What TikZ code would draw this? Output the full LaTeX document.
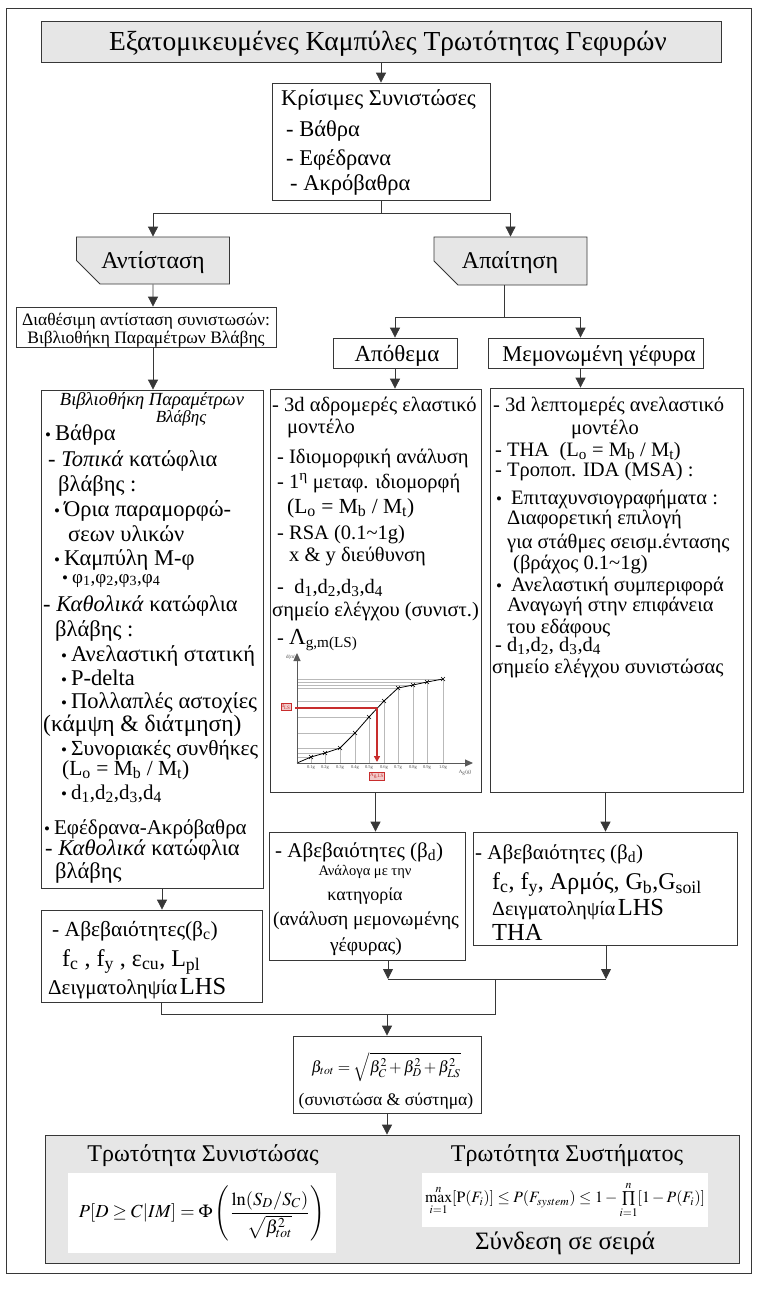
\documentclass[tikz,border=0pt]{standalone}
\usepackage{mathptmx}
\usepackage{fontspec}
\setmainfont{Liberation Serif}
\usepackage{graphicx}
\usetikzlibrary{arrows.meta}
\usetikzlibrary{fit}
\usetikzlibrary{shapes.misc}
\definecolor{boxgray}{RGB}{230,230,230}
\definecolor{linegray}{RGB}{55,55,55}
\definecolor{chartred}{RGB}{200,45,45}
\newcommand{\fsz}[1]{\fontsize{#1}{#1}\selectfont}
\newcommand{\bul}{{\fsz{17}\textbullet}\hspace{4pt}}
\tikzstyle{block}=[draw=linegray, line width=0.8pt, inner sep=0]
\tikzstyle{gray block}=[block, fill=boxgray]
\tikzstyle{cut block}=[gray block, chamfered rectangle, chamfered rectangle corners=south west, chamfered rectangle xsep=13pt, chamfered rectangle ysep=11pt]
\tikzstyle{wire}=[draw=linegray, line width=0.8pt]
\tikzstyle{link}=[wire, -{Triangle[width=10pt,length=10pt]}]
\tikzstyle{line text}=[inner sep=0, anchor=base west]
\tikzstyle{mid text}=[inner sep=0, anchor=base]

\begin{document}
\begin{tikzpicture}[x=1pt, y=-1pt]
  \useasboundingbox (0,0) rectangle (762,1293);
  \draw[wire] (6,8) rectangle (751,1273);

  % boxes
  \node[gray block, fit={(41,21) (721,62)}] (title) {};
  \node[block, fit={(272,83) (490,200)}] (crit) {};
  \node[cut block, fit={(89,248) (217,273)}] (resist) {};
  \node[cut block, fit={(447,248) (574,274)}] (demand) {};
  \node[block, fit={(16,307) (276,347)}] (avail) {};
  \node[block, fit={(41,390) (263,888)}] (lib) {};
  \node[block, fit={(333,338) (457,368)}] (margin) {};
  \node[block, fit={(488,338) (703,368)}] (single) {};
  \node[block, fit={(270,389) (481,792)}] (elastic) {};
  \node[block, fit={(490,388) (743,792)}] (inelastic) {};
  \node[block, fit={(41,910) (262,1002)}] (unc-c) {};
  \node[block, fit={(269,832) (465,960)}] (unc-d) {};
  \node[block, fit={(473,832) (737,945)}] (unc-s) {};
  \node[block, fit={(293,1036) (481,1113)}] (btot) {};
  \node[gray block, fit={(45,1135) (739,1263)}] (frag) {};
  \node[fill=white, inner sep=0, fit={(68,1173) (336,1253)}] (frag-c) {};
  \node[fill=white, inner sep=0, fit={(422,1173) (708,1227)}] (frag-s) {};

  % connectors
  \coordinate (crit-split) at (381,213);
  \coordinate (demand-split) at (504,317);
  \coordinate (join-d) at (388,979);
  \coordinate (join-s) at (606,979);
  \coordinate (join-all) at (495,1014);
  \draw[link] (title) -- (crit);
  \draw[wire] (crit) -- (crit-split);
  \draw[link] (crit-split) -| (resist);
  \draw[link] (crit-split) -| (demand);
  \draw[link] (resist) -- (resist |- avail.north);
  \draw[link] (resist |- avail.south) -- (resist |- lib.north);
  \draw[wire] (demand-split |- demand.south) -- (demand-split);
  \draw[link] (demand-split) -| (margin);
  \draw[link] (demand-split) -| ([xshift=-15pt]single.north);
  \draw[link] (margin) -- (margin |- elastic.north);
  \draw[link] ([xshift=-15pt]single.south) -- ([xshift=-15pt]single.south |- inelastic.north);
  \draw[link] ([xshift=10pt]lib.south) -- ([xshift=10pt]lib.south |- unc-c.north);
  \draw[link] (elastic) -- (elastic |- unc-d.north);
  \draw[link] ([xshift=-11pt]inelastic.south) -- ([xshift=-11pt]inelastic.south |- unc-s.north);
  \draw[link] (join-d |- unc-d.south) -- (join-d);
  \draw[link] (join-s |- unc-s.south) -- (join-s);
  \draw[wire] (join-d) -- (join-s);
  \draw[wire] (join-all |- join-d) -- (join-all) -| ([xshift=10pt]unc-c.south);
  \draw[link] (btot |- join-all) -- (btot);
  \draw[link] (btot) -- (btot |- frag.north);

  % headings
  \node[mid text, font=\fsz{27.5}] (title-text) at (388,50) {Εξατομικευμένες Καμπύλες Τρωτότητας Γεφυρών};
  \node[line text, font=\fsz{22.5}] (crit-1) at (281,105) {Κρίσιμες Συνιστώσες};
  \node[line text, font=\fsz{22.5}] (crit-2) at (286,136) {- Βάθρα};
  \node[line text, font=\fsz{22.5}] (crit-3) at (286,165) {- Εφέδρανα};
  \node[line text, font=\fsz{22.5}] (crit-4) at (290,190) {- Ακρόβαθρα};
  \node[mid text, font=\fsz{24}] (resist-text) at (153,268) {Αντίσταση};
  \node[mid text, font=\fsz{24}] (demand-text) at (510,268) {Απαίτηση};
  \node[mid text, font=\fsz{17.5}] (avail-1) at (146,325) {Διαθέσιμη αντίσταση συνιστωσών:};
  \node[mid text, font=\fsz{17.5}] (avail-2) at (146,343) {Βιβλιοθήκη Παραμέτρων Βλάβης};
  \node[mid text, font=\fsz{23}] (margin-text) at (397,361) {Απόθεμα};
  \node[mid text, font=\fsz{22.5}] (single-text) at (599,361) {Μεμονωμένη γέφυρα};

  % resistance library
  \node[mid text, font=\fsz{18.5}\itshape] (lib-head-1) at (152,405) {Βιβλιοθήκη Παραμέτρων};
  \node[mid text, font=\fsz{17}\itshape] (lib-head-2) at (181,422) {Βλάβης};
  \node[line text, font=\fsz{22.5}] (lib-1) at (45,440) {\bul Βάθρα};
  \node[line text, font=\fsz{22.5}] (lib-2) at (48,466) {- \textit{Τοπικά} κατώφλια};
  \node[line text, font=\fsz{22.5}] (lib-3) at (58,491) {βλάβης :};
  \node[line text, font=\fsz{22.5}] (lib-4) at (54,516) {\bul Όρια παραμορφώ-};
  \node[line text, font=\fsz{22.5}] (lib-5) at (68,541) {σεων υλικών};
  \node[line text, font=\fsz{22.5}] (lib-6) at (54,565) {\bul Καμπύλη Μ-φ};
  \node[line text, font=\fsz{19}] (lib-7) at (62,583) {\bul φ\textsubscript{1},φ\textsubscript{2},φ\textsubscript{3},φ\textsubscript{4}};
  \node[line text, font=\fsz{22.5}] (lib-8) at (43,611) {- \textit{Καθολικά} κατώφλια};
  \node[line text, font=\fsz{22.5}] (lib-9) at (55,636) {βλάβης :};
  \node[line text, font=\fsz{22.5}] (lib-10) at (61,661) {\bul Ανελαστική στατική};
  \node[line text, font=\fsz{22.5}] (lib-11) at (61,685) {\bul P-delta};
  \node[line text, font=\fsz{22.5}] (lib-12) at (61,708) {\bul Πολλαπλές αστοχίες};
  \node[line text, font=\fsz{23.5}] (lib-13) at (43,731) {(κάμψη \& διάτμηση)};
  \node[line text, font=\fsz{21.5}] (lib-14) at (61,755) {\bul Συνοριακές συνθήκες};
  \node[line text, font=\fsz{21.5}] (lib-15) at (62,775) {(L\textsubscript{o} = M\textsubscript{b} / M\textsubscript{t})};
  \node[line text, font=\fsz{21}] (lib-16) at (61,799) {\bul d\textsubscript{1},d\textsubscript{2},d\textsubscript{3},d\textsubscript{4}};
  \node[line text, font=\fsz{21}] (lib-17) at (44,834) {\bul Εφέδρανα-Ακρόβαθρα};
  \node[line text, font=\fsz{22.5}] (lib-18) at (45,855) {- \textit{Καθολικά} κατώφλια};
  \node[line text, font=\fsz{22.5}] (lib-19) at (55,878) {βλάβης};

  % elastic model
  \node[line text, font=\fsz{20.5}] (el-1) at (272,411) {- 3d αδρομερές ελαστικό};
  \node[line text, font=\fsz{20.5}] (el-2) at (287,433) {μοντέλο};
  \node[line text, font=\fsz{20.5}] (el-3) at (277,463) {- Ιδιομορφική ανάλυση};
  \node[line text, font=\fsz{20.5}] (el-4) at (277,488) {- 1\textsuperscript{η} μεταφ. ιδιομορφή};
  \node[line text, font=\fsz{21.5}] (el-5) at (287,513) {(L\textsubscript{o} = M\textsubscript{b} / M\textsubscript{t})};
  \node[line text, font=\fsz{20.5}] (el-6) at (277,539) {- RSA (0.1\textasciitilde1g)};
  \node[line text, font=\fsz{20.5}] (el-7) at (289,561) {x \& y διεύθυνση};
  \node[line text, font=\fsz{20.5}] (el-8) at (277,593) {-\ \ d\textsubscript{1},d\textsubscript{2},d\textsubscript{3},d\textsubscript{4}};
  \node[line text, font=\fsz{20.5}] (el-9) at (272,616) {σημείο ελέγχου (συνιστ.)};
  \node[line text, font=\fsz{20.5}] (el-10) at (277,644) {- {\fsz{23}Λ}\textsubscript{g,m(LS)}};

  % chart in elastic model
  \foreach \px/\py/\lbl [count=\i] in {311/757/0.1g, 325/753/0.2g, 340/748/0.3g, 355/733/0.4g, 369/717/0.5g,
      384/701/0.6g, 398/688/0.7g, 413/685/0.8g, 427/682/0.9g, 443/679/1.0g} {
    \draw[gray!55, line width=0.4pt] (\px,763) -- (\px,\py) (297,\py) -- (\px,\py);
    \node[font=\fsz{4.5}, text=gray!60!black, inner sep=0] (tick-\i) at (\px,767) {\lbl};
  }
  \draw[line width=0.8pt] (297,763) -- (311,757) -- (325,753) -- (340,748) -- (355,733) -- (369,717)
    -- (384,701) -- (398,688) -- (413,685) -- (427,682) -- (443,679);
  \foreach \px/\py in {311/757, 325/753, 340/748, 355/733, 369/717, 384/701, 398/688, 413/685, 427/682, 443/679}
    \draw[line width=0.6pt] ({\px-2},{\py-2}) -- ({\px+2},{\py+2}) ({\px-2},{\py+2}) -- ({\px+2},{\py-2});
  \draw[gray!70!black, line width=1pt, -{Triangle[width=7pt,length=8pt]}] (297,763) -- (297,653);
  \draw[gray!70!black, line width=1pt, -{Triangle[width=7pt,length=8pt]}] (297,763) -- (473,763);
  \node[font=\fsz{5}, text=gray!60!black, inner sep=0] (axis-x) at (465,773) {A\textsubscript{g}(g)};
  \node[font=\fsz{5}, text=gray!60!black, inner sep=0] (axis-y) at (291,657) {d(m)};
  \draw[chartred, line width=1.8pt] (295,708) -- (377,708);
  \draw[chartred, line width=1.8pt, -{Triangle[width=6pt,length=6pt]}] (377,708) -- (377,762);
  \node[draw=chartred, fill=chartred!25, text=chartred, inner sep=0.8pt, font=\fsz{5}] (red-d) at (286,707) {d\textsubscript{LS}};
  \node[draw=chartred, fill=chartred!25, text=chartred, inner sep=0.8pt, font=\fsz{5}] (red-a) at (377,776) {A\textsubscript{g,LS}};

  % inelastic model
  \node[line text, font=\fsz{20.5}] (in-1) at (493,411) {- 3d λεπτομερές ανελαστικό};
  \node[mid text, font=\fsz{20.5}] (in-2) at (605,434) {μοντέλο};
  \node[line text, font=\fsz{20.5}] (in-3) at (495,456) {- THA\ \ (L\textsubscript{o} = M\textsubscript{b} / M\textsubscript{t})};
  \node[line text, font=\fsz{20.5}] (in-4) at (495,476) {- Τροποπ. IDA (MSA) :};
  \node[line text, font=\fsz{20.5}] (in-5) at (496,504) {\bul\hspace{5pt}Επιταχυνσιογραφήματα :};
  \node[line text, font=\fsz{20.5}] (in-6) at (507,524) {Διαφορετική επιλογή};
  \node[line text, font=\fsz{20.5}] (in-7) at (507,548) {για στάθμες σεισμ.έντασης};
  \node[line text, font=\fsz{20.5}] (in-8) at (513,569) {(βράχος 0.1\textasciitilde1g)};
  \node[line text, font=\fsz{20.5}] (in-9) at (496,591) {\bul\hspace{5pt}Ανελαστική συμπεριφορά};
  \node[line text, font=\fsz{20.5}] (in-10) at (507,611) {Αναγωγή στην επιφάνεια};
  \node[line text, font=\fsz{20.5}] (in-11) at (507,633) {του εδάφους};
  \node[line text, font=\fsz{20.5}] (in-12) at (495,651) {-\ d\textsubscript{1},d\textsubscript{2}, d\textsubscript{3},d\textsubscript{4}};
  \node[line text, font=\fsz{20.5}] (in-13) at (492,673) {σημείο ελέγχου συνιστώσας};

  % uncertainties
  \node[line text, font=\fsz{21.5}] (uc-1) at (52,936) {- Αβεβαιότητες(β\textsubscript{c})};
  \node[line text, font=\fsz{24}] (uc-2) at (62,966) {f\textsubscript{c} , f\textsubscript{y} , ε\textsubscript{cu}, L\textsubscript{pl}};
  \node[line text] (uc-3) at (48,994) {{\fsz{21}Δειγματοληψία} {\fsz{24.5}LHS}};
  \node[line text, font=\fsz{21}] (ud-1) at (275,857) {- Αβεβαιότητες (β\textsubscript{d})};
  \node[mid text, font=\fsz{14.5}] (ud-2) at (365,875) {Ανάλογα με την};
  \node[mid text, font=\fsz{18}] (ud-3) at (365,900) {κατηγορία};
  \node[mid text, font=\fsz{19.5}] (ud-4) at (366,925) {(ανάλυση μεμονωμένης};
  \node[mid text, font=\fsz{19.5}] (ud-5) at (366,951) {γέφυρας)};
  \node[line text, font=\fsz{21}] (us-1) at (475,859) {- Αβεβαιότητες (β\textsubscript{d})};
  \node[line text, font=\fsz{24}] (us-2) at (492,889) {f\textsubscript{c}, f\textsubscript{y}, Αρμός, G\textsubscript{b},G\textsubscript{soil}};
  \node[line text] (us-3) at (492,915) {{\fsz{20}Δειγματοληψία} {\fsz{24.5}LHS}};
  \node[line text, font=\fsz{24.5}] (us-4) at (492,940) {THA};

  % total dispersion and fragility
  \node[font=\fsz{16}, inner sep=0] (btot-eq) at (386,1067) {$\beta_{tot}=\sqrt{\beta_C^2+\beta_D^2+\beta_{LS}^2}$};
  \node[mid text, font=\fsz{17.6}] (btot-text) at (386,1105) {(συνιστώσα \& σύστημα)};
  \node[mid text, font=\fsz{24}] (frag-c-title) at (203,1161) {Τρωτότητα Συνιστώσας};
  \node[mid text, font=\fsz{24}] (frag-s-title) at (567,1161) {Τρωτότητα Συστήματος};
  \node[inner sep=0] (frag-c-eq) at (frag-c) {\resizebox{246pt}{!}{$P[D\geq C|IM]=\Phi\left(\displaystyle\frac{\ln(S_D/S_C)}{\sqrt{\beta_{tot}^2}}\right)$}};
  \node[inner sep=0] (frag-s-eq) at (frag-s) {\resizebox{280pt}{!}{$\max\limits_{i=1}^{n}[\mathrm{P}(F_i)]\leq P(F_{system})\leq 1-\prod\limits_{i=1}^{n}[1-P(F_i)]$}};
  \node[mid text, font=\fsz{25}] (frag-s-note) at (565,1249) {Σύνδεση σε σειρά};
\end{tikzpicture}
\end{document}
